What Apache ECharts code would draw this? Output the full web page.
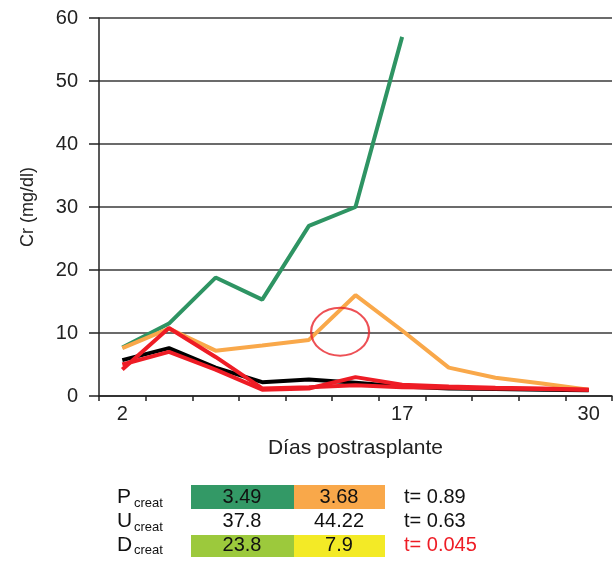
<!DOCTYPE html>
<html>
<head>
<meta charset="utf-8">
<script src="https://cdn.jsdelivr.net/npm/echarts@6/dist/echarts.min.js"></script>
<style>html,body{margin:0;padding:0;background:#fff}#c{width:616px;height:561px}</style>
</head>
<body>
<div id="c"></div>
<script>
var xTickLabels = ['2','','','','','','17','','','','30'];
var yTicks = [0, 10, 20, 30, 40, 50, 60];
var greenSeries  = [7.7, 11.5, 18.8, 15.3, 27.0, 30.0, 57.0, null, null, null, null];
var orangeSeries = [7.6, 10.7, 7.2, 8.0, 8.9, 16.0, 10.4, 4.5, 2.9, 2.0, 1.0];
var blackSeries  = [5.7, 7.6, 4.5, 2.2, 2.6, 2.1, 1.5, 1.2, 1.1, 1.0, 0.9];
var red1Series   = [4.2, 10.8, 6.2, 1.2, 1.4, 1.7, 1.4, 1.3, 1.2, 1.1, 1.0];
var red2Series   = [5.0, 7.0, 4.2, 1.0, 1.2, 3.0, 1.8, 1.5, 1.3, 1.2, 1.0];
var circleMark   = [[4.67, 10.2]];

var tableRows = ['P', 'U', 'D'];
var tableSub = 'creat';
var col1 = ['3.49', '37.8', '23.8'];
var col2 = ['3.68', '44.22', '7.9'];
var tStats = ['t= 0.89', 't= 0.63', 't= 0.045'];

var categories = xTickLabels.map(function (l, i) { return String(i); });
var chart = echarts.init(document.getElementById('c'));

var font = 'Liberation Sans, Arial, sans-serif';
var rowY = [497, 521, 545];
var subY = [503, 527, 550];
var graphics = [
  {type:'rect', shape:{x:191, y:485, width:103, height:24}, style:{fill:'#339966'}},
  {type:'rect', shape:{x:294, y:485, width:91, height:24}, style:{fill:'#f9a84a'}},
  {type:'rect', shape:{x:191, y:535, width:103, height:22}, style:{fill:'#9cc93c'}},
  {type:'rect', shape:{x:294, y:535, width:91, height:22}, style:{fill:'#f3ea26'}}
];
for (var i = 0; i < 3; i++) {
  graphics.push({type:'text', x:117, y:rowY[i], style:{text:tableRows[i], font:'21px ' + font, fill:'#111', verticalAlign:'middle'}});
  graphics.push({type:'text', x:134, y:subY[i], style:{text:tableSub, font:'13px ' + font, fill:'#111', verticalAlign:'middle'}});
  graphics.push({type:'text', x:242, y:rowY[i], style:{text:col1[i], font:'20px ' + font, fill:'#111', align:'center', verticalAlign:'middle'}});
  graphics.push({type:'text', x:339, y:rowY[i], style:{text:col2[i], font:'20px ' + font, fill:'#111', align:'center', verticalAlign:'middle'}});
  graphics.push({type:'text', x:404, y:rowY[i], style:{text:tStats[i], font:'20px ' + font, fill: i === 2 ? '#ee1c25' : '#111', verticalAlign:'middle'}});
}

function lineSeries(data, color, z) {
  return {type:'line', data:data, symbol:'none', z:z, xAxisIndex:0,
    lineStyle:{color:color, width:4}, itemStyle:{color:color}, animation:false};
}

chart.setOption({
  animation:false,
  textStyle:{fontFamily:font},
  grid:{left:99, top:18, right:4, bottom:165},
  xAxis:[{
    type:'category', data:categories, boundaryGap:true,
    name:'Días postrasplante', nameLocation:'middle', nameGap:42,
    nameTextStyle:{fontSize:21, color:'#222'},
    axisLine:{onZero:false, lineStyle:{color:'#222', width:1.5}},
    axisTick:{show:true, length:5, lineStyle:{color:'#222', width:1.5}},
    axisLabel:{interval:0, margin:8, fontSize:20, color:'#222', formatter:function(v, idx){ return xTickLabels[idx]; }},
    splitLine:{show:false}
  },{
    type:'value', min:-0.5, max:10.5, show:false, axisLine:{onZero:false}
  }],
  yAxis:{
    type:'value', min:0, max:60, interval:10,
    name:'Cr (mg/dl)', nameLocation:'middle', nameGap:62, nameRotate:90,
    nameTextStyle:{fontSize:18, color:'#222'},
    axisLine:{show:true, onZero:false, lineStyle:{color:'#222', width:1.5}},
    axisTick:{show:true, length:10, lineStyle:{color:'#222', width:1.5}},
    axisLabel:{margin:21, fontSize:20, color:'#222', formatter:function(v){ return yTicks.indexOf(v) >= 0 ? String(v) : ''; }},
    splitLine:{show:true, lineStyle:{color:'#3a3a3a', width:1.5}}
  },
  series:[
    lineSeries(greenSeries, '#2e9463', 3),
    lineSeries(orangeSeries, '#f9a84a', 4),
    lineSeries(blackSeries, '#000000', 5),
    lineSeries(red2Series, '#ee1c25', 6),
    lineSeries(red1Series, '#ee1c25', 7),
    {type:'scatter', xAxisIndex:1, data:circleMark, symbol:'circle', symbolSize:[58, 48], z:8,
      itemStyle:{color:'rgba(0,0,0,0)', borderColor:'#e8242a', borderWidth:2}, silent:true}
  ],
  graphic:graphics
});
</script>
</body>
</html>
